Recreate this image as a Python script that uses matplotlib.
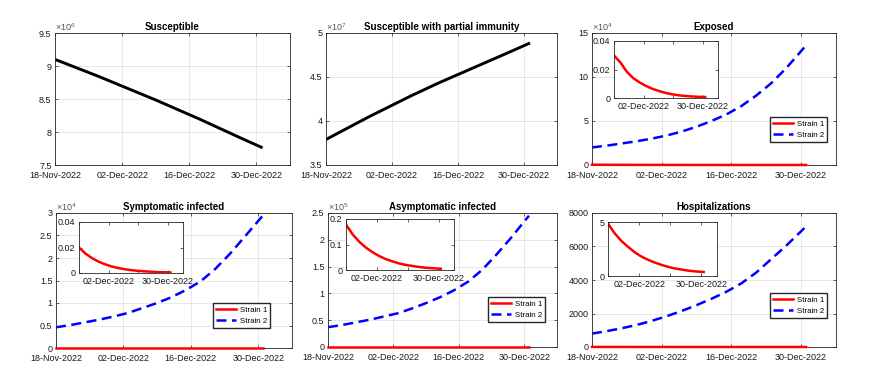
import matplotlib
matplotlib.use('Agg')
import matplotlib.pyplot as plt
import matplotlib.dates as mdates
import numpy as np
import pandas as pd
from matplotlib.ticker import FuncFormatter, FixedLocator

plt.rcParams['font.family'] = ['Liberation Sans', 'DejaVu Sans']
plt.rcParams['mathtext.default'] = 'regular'

W, H = 870, 386
START = pd.Timestamp('2022-11-18')
DAYS = [0, 3, 6, 9, 12, 15, 18, 21, 24, 27, 30, 33, 36, 39, 43]

susceptible = [9.10, 9.015, 8.93, 8.845, 8.755, 8.665, 8.575, 8.485,
               8.39, 8.295, 8.20, 8.10, 8.00, 7.90, 7.77]            # x1e6
partial = [3.79, 3.875, 3.96, 4.045, 4.125, 4.205, 4.285, 4.36,
           4.435, 4.505, 4.575, 4.645, 4.715, 4.785, 4.88]          # x1e7
exposed_s1 = [0.0298, 0.025, 0.0185, 0.0140, 0.0110, 0.0085, 0.0065, 0.0050,
              0.0037, 0.0027, 0.0020, 0.0015, 0.0011, 0.0009, 0.0007]
exposed_s2 = [2.0, 2.2, 2.45, 2.7, 3.0, 3.35, 3.8, 4.35,
              5.0, 5.75, 6.7, 7.9, 9.3, 11.0, 13.6]                 # x1e4
sympt_s1 = [0.020, 0.0153, 0.0118, 0.0091, 0.0070, 0.0053, 0.0041, 0.0031,
            0.0024, 0.0018, 0.0014, 0.0011, 0.0008, 0.0006, 0.0005]
sympt_s2 = [0.46, 0.51, 0.57, 0.63, 0.70, 0.78, 0.89, 1.0,
            1.13, 1.29, 1.48, 1.75, 2.08, 2.45, 2.95]               # x1e4
asym_s1 = [0.178, 0.140, 0.111, 0.088, 0.070, 0.055, 0.043, 0.034,
           0.026, 0.020, 0.016, 0.012, 0.009, 0.007, 0.005]
asym_s2 = [0.37, 0.41, 0.46, 0.51, 0.57, 0.63, 0.72, 0.82,
           0.93, 1.06, 1.22, 1.44, 1.72, 2.02, 2.45]                # x1e5
hosp_s1 = [4.85, 3.95, 3.25, 2.70, 2.20, 1.80, 1.50, 1.25,
           1.03, 0.85, 0.70, 0.60, 0.50, 0.43, 0.37]
hosp_s2 = [800, 950, 1120, 1320, 1560, 1840, 2150, 2500,
           2880, 3300, 3800, 4450, 5250, 6050, 7200]

dates = START + pd.to_timedelta(DAYS, unit='D')
xticks = [START + pd.Timedelta(days=d) for d in (0, 14, 28, 42)]
xlim = (START, START + pd.Timedelta(days=49))
FRAME = '#262626'
FS = 6.5
TFS = 7


def px_axes(fig, l, t, r, b):
    return fig.add_axes([l / W, 1 - b / H, (r - l) / W, (b - t) / H])


def style(ax, grid=True):
    ax.set_xlim(*xlim)
    ax.xaxis.set_major_locator(FixedLocator(mdates.date2num(xticks)))
    ax.xaxis.set_major_formatter(mdates.DateFormatter('%d-%b-%Y'))
    ax.tick_params(direction='in', top=True, right=True, labelsize=FS,
                   length=2.5, width=0.5, color=FRAME, labelcolor='#1a1a1a')
    ax.tick_params(axis='x', pad=4)
    ax.tick_params(axis='y', pad=2.5)
    for s in ax.spines.values():
        s.set_color(FRAME)
        s.set_linewidth(0.6)
    if grid:
        ax.grid(True, color=FRAME, alpha=0.15, linewidth=0.5)


def scaled(ax, exp):
    ax.yaxis.set_major_formatter(FuncFormatter(lambda v, _: f'{v / 10**exp:g}'))
    ax.text(0.0, 1.0, rf'$\times10^{{{exp}}}$', transform=ax.transAxes,
            ha='left', va='bottom', fontsize=FS, color='#555555')


def inset(fig, rect, values, ylim, yticks, ylabels):
    ax = px_axes(fig, *rect)
    ax.plot(dates, values, color='red', lw=1.8)
    style(ax, grid=False)
    ax.tick_params(axis='x', pad=3)
    ax.set_xticklabels(['', '02-Dec-2022', '', '30-Dec-2022'])
    ax.set_ylim(*ylim)
    ax.set_yticks(yticks)
    ax.set_yticklabels(ylabels)
    return ax


def legend(fig, ax, l, t):
    ax.legend(['Strain 1', 'Strain 2'], loc='upper left',
              bbox_to_anchor=(l / W, 1 - t / H), bbox_transform=fig.transFigure,
              borderaxespad=0, fontsize=5.7, fancybox=False, framealpha=1,
              edgecolor=FRAME, handlelength=2.5, borderpad=0.4,
              labelspacing=0.45, handletextpad=0.5)


def strains(ax, s1, s2, scale=1):
    ax.plot(dates, np.array(s1) * scale, color='red', lw=1.8, clip_on=False, zorder=3)
    ax.plot(dates, np.array(s2) * scale, color='blue', lw=1.8, dashes=(4, 2.2))


fig = plt.figure(figsize=(W / 100, H / 100), dpi=100)

# Susceptible
ax = px_axes(fig, 55, 33, 290, 165)
ax.plot(dates, np.array(susceptible) * 1e6, color='black', lw=2.1)
style(ax)
ax.set_ylim(7.5e6, 9.5e6)
ax.set_yticks(np.arange(7.5e6, 9.51e6, 0.5e6))
scaled(ax, 6)
ax.set_title('Susceptible', fontsize=TFS, fontweight='bold', pad=2)

# Susceptible with partial immunity
ax = px_axes(fig, 326, 33, 557, 165)
ax.plot(dates, np.array(partial) * 1e7, color='black', lw=2.1)
style(ax)
ax.set_ylim(3.5e7, 5e7)
ax.set_yticks(np.arange(3.5e7, 5.01e7, 0.5e7))
scaled(ax, 7)
ax.set_title('Susceptible with partial immunity', fontsize=TFS, fontweight='bold', pad=2)

# Exposed
ax = px_axes(fig, 592, 33, 836, 165)
strains(ax, exposed_s1, exposed_s2, 1e4)
style(ax)
ax.set_ylim(0, 15e4)
ax.set_yticks(np.arange(0, 15.1e4, 5e4))
scaled(ax, 4)
ax.set_title('Exposed', fontsize=TFS, fontweight='bold', pad=2)
legend(fig, ax, 770, 117)
inset(fig, (614, 41, 718, 98), exposed_s1, (0, 0.04), [0, 0.02, 0.04], ['0', '0.02', '0.04'])

# Symptomatic infected
ax = px_axes(fig, 56, 213, 292, 348)
strains(ax, [v * 1e-4 for v in sympt_s1], sympt_s2, 1e4)
style(ax)
ax.set_ylim(0, 3e4)
ax.set_yticks(np.arange(0, 3.01e4, 0.5e4))
scaled(ax, 4)
ax.set_title('Symptomatic infected', fontsize=TFS, fontweight='bold', pad=2)
legend(fig, ax, 213, 303)
inset(fig, (79, 222, 183, 273), sympt_s1, (0, 0.04), [0, 0.02, 0.04], ['0', '0.02', '0.04'])

# Asymptomatic infected
ax = px_axes(fig, 328, 213, 557, 347)
strains(ax, [v * 1e-5 for v in asym_s1], asym_s2, 1e5)
style(ax)
ax.set_ylim(0, 2.5e5)
ax.set_yticks(np.arange(0, 2.51e5, 0.5e5))
scaled(ax, 5)
ax.set_title('Asymptomatic infected', fontsize=TFS, fontweight='bold', pad=2)
legend(fig, ax, 488, 297)
inset(fig, (346, 219, 454, 270), asym_s1, (0, 0.2), [0, 0.1, 0.2], ['0', '0.1', '0.2'])

# Hospitalizations
ax = px_axes(fig, 592, 213, 836, 347)
strains(ax, hosp_s1, hosp_s2)
style(ax)
ax.set_ylim(0, 8000)
ax.set_yticks(np.arange(0, 8001, 2000))
ax.set_title('Hospitalizations', fontsize=TFS, fontweight='bold', pad=2)
legend(fig, ax, 770, 293)
inset(fig, (608, 222, 717, 276), hosp_s1, (0, 5), [0, 5], ['0', '5'])

fig.savefig('out.png', dpi=100)
